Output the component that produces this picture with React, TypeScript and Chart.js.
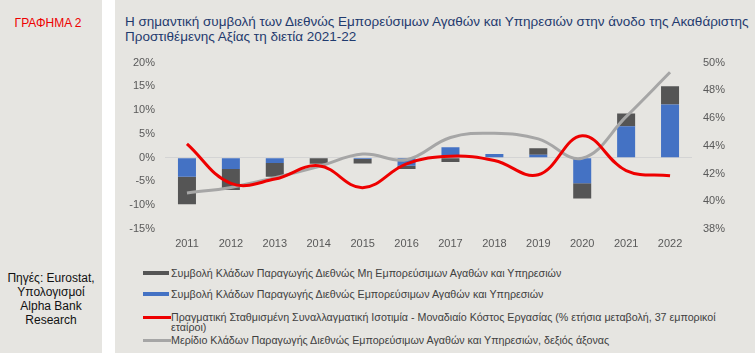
import React, { useEffect, useRef } from "react";
import { Chart, registerables } from "chart.js";

Chart.register(...registerables);

const years = ["2011", "2012", "2013", "2014", "2015", "2016", "2017", "2018", "2019", "2020", "2021", "2022"];
const tradable = [-4.0, -2.4, -1.1, -0.1, -0.3, -1.7, 2.2, 0.8, 0.6, -5.4, 6.6, 11.2];
const nonTradable = [-5.8, -4.4, -2.9, -1.2, -0.9, -0.7, -0.9, 0.0, 1.4, -3.2, 2.7, 3.8];
const reer = [2.9, -5.4, -4.5, -1.7, -6.3, -1.3, 0.3, -0.6, -3.6, 4.6, -2.7, -3.8];
const share = [40.6, 41.0, 41.7, 42.5, 43.4, 43.0, 44.6, 44.9, 44.5, 43.1, 46.1, 49.3];

const titleLines = [
  "Η σημαντική συμβολή των Διεθνώς Εμπορεύσιμων Αγαθών και Υπηρεσιών στην άνοδο της Ακαθάριστης",
  "Προστιθέμενης Αξίας τη διετία 2021-22",
];

const legendLabels = [
  "Συμβολή Κλάδων Παραγωγής Διεθνώς Μη Εμπορεύσιμων Αγαθών και Υπηρεσιών",
  "Συμβολή Κλάδων Παραγωγής Διεθνώς Εμπορεύσιμων Αγαθών και Υπηρεσιών",
  "Πραγματική Σταθμισμένη Συναλλαγματική Ισοτιμία - Μοναδιαίο Κόστος Εργασίας (% ετήσια μεταβολή, 37 εμπορικοί εταίροι)",
  "Μερίδιο Κλάδων Παραγωγής Διεθνώς Εμπορεύσιμων Αγαθών και Υπηρεσιών, δεξιός άξονας",
];

const BG = "#e6e5e1";
const BLUE = "#4472c4";
const DARK = "#555555";
const RED = "#ee0000";
const GREY = "#a6a6a6";

export default function App() {
  const ref = useRef<HTMLCanvasElement | null>(null);

  useEffect(() => {
    document.body.style.margin = "0";
    const ctx = ref.current!;
    const font = { family: "'Liberation Sans', Arial, sans-serif", size: 11 };
    const chart = new Chart(ctx, {
      type: "bar",
      data: {
        labels: years,
        datasets: [
          {
            type: "bar",
            label: legendLabels[1],
            data: tradable,
            backgroundColor: BLUE,
            yAxisID: "y",
            stack: "bars",
            order: 3,
            barPercentage: 0.41,
            categoryPercentage: 1,
          },
          {
            type: "bar",
            label: legendLabels[0],
            data: nonTradable,
            backgroundColor: DARK,
            yAxisID: "y",
            stack: "bars",
            order: 3,
            barPercentage: 0.41,
            categoryPercentage: 1,
          },
          {
            type: "line",
            label: legendLabels[3],
            data: share,
            borderColor: GREY,
            borderWidth: 3,
            pointRadius: 0,
            tension: 0.4,
            yAxisID: "y1",
            stack: "share",
            order: 2,
            fill: false,
          },
          {
            type: "line",
            label: legendLabels[2],
            data: reer,
            borderColor: RED,
            borderWidth: 3,
            pointRadius: 0,
            tension: 0.4,
            yAxisID: "y",
            stack: "reer",
            order: 1,
            fill: false,
          },
        ],
      },
      options: {
        animation: false,
        responsive: false,
        maintainAspectRatio: false,
        layout: { padding: { top: 7, left: 0, right: 0, bottom: 0 } },
        plugins: { legend: { display: false }, tooltip: { enabled: false }, title: { display: false } },
        scales: {
          x: {
            stacked: true,
            grid: { display: false, drawTicks: false },
            border: { display: false },
            ticks: { color: "#595959", font, padding: 8, maxRotation: 0 },
            afterFit: (s: any) => {
              s.height = 31;
            },
          },
          y: {
            position: "left",
            stacked: true,
            min: -15,
            max: 20,
            ticks: {
              stepSize: 5,
              color: "#595959",
              font,
              padding: 10,
              callback: (v: any) => `${v}%`,
            },
            grid: {
              drawTicks: false,
              color: (c: any) => (c.tick && c.tick.value === 0 ? "#d4d4d4" : "rgba(0,0,0,0)"),
              lineWidth: 1,
            },
            border: { display: false },
            afterFit: (s: any) => {
              s.width = 50;
            },
          },
          y1: {
            position: "right",
            min: 38,
            max: 50,
            ticks: {
              stepSize: 2,
              color: "#595959",
              font,
              padding: 11,
              callback: (v: any) => `${v}%`,
            },
            grid: { display: false, drawTicks: false },
            border: { display: false },
            afterFit: (s: any) => {
              s.width = 63;
            },
          },
        },
      },
    });
    return () => chart.destroy();
  }, []);

  const legendFont: React.CSSProperties = {
    fontFamily: "'Liberation Sans', Arial, sans-serif",
    fontSize: 10.7,
    color: "#404040",
    lineHeight: "10px",
  };

  const legendRows = [
    { label: legendLabels[0], color: DARK, top: 268, h: 4 },
    { label: legendLabels[1], color: BLUE, top: 289, h: 4 },
    { label: legendLabels[2], color: RED, top: 312, h: 3 },
    { label: legendLabels[3], color: GREY, top: 335, h: 3 },
  ];

  return (
    <div style={{ position: "fixed", left: 0, top: 0, width: 755, height: 353, background: "#ffffff", overflow: "hidden" }}>
      <div style={{ position: "absolute", left: 0, top: 0, width: 102, height: 353, background: BG }}>
        <div
          style={{
            position: "absolute",
            left: 0,
            top: 16,
            width: 96,
            textAlign: "center",
            color: "#ee0000",
            fontFamily: "'Liberation Sans', Arial, sans-serif",
            fontSize: 12,
          }}
        >
          ΓΡΑΦΗΜΑ 2
        </div>
        <div
          style={{
            position: "absolute",
            left: 0,
            top: 271,
            width: 102,
            textAlign: "center",
            color: "#111111",
            fontFamily: "'Liberation Sans', Arial, sans-serif",
            fontSize: 12,
            lineHeight: "14px",
          }}
        >
          Πηγές: Eurostat,
          <br />
          Υπολογισμοί
          <br />
          Alpha Bank
          <br />
          Research
        </div>
      </div>
      <div style={{ position: "absolute", left: 115, top: 0, width: 640, height: 353, background: BG }}>
        <div
          style={{
            position: "absolute",
            left: 10,
            top: 14,
            width: 640,
            whiteSpace: "nowrap",
            color: "#1f3a6e",
            fontFamily: "'Liberation Sans', Arial, sans-serif",
            fontSize: 13.5,
            lineHeight: "15px",
          }}
        >
          {titleLines[0]}
          <br />
          {titleLines[1]}
        </div>
        {legendRows.map((r, i) => (
          <div key={i} style={{ position: "absolute", left: 28, top: r.top, width: 610 }}>
            <div
              style={{
                position: "absolute",
                left: 0,
                top: 5 - r.h / 2,
                width: i < 2 ? 26 : 28,
                height: r.h,
                background: r.color,
              }}
            />
            <div style={{ ...legendFont, position: "absolute", left: 28, top: 0, width: 578 }}>{r.label}</div>
          </div>
        ))}
      </div>
      <canvas ref={ref} width={640} height={215} style={{ position: "absolute", left: 115, top: 45, width: 640, height: 215 }} />
    </div>
  );
}
